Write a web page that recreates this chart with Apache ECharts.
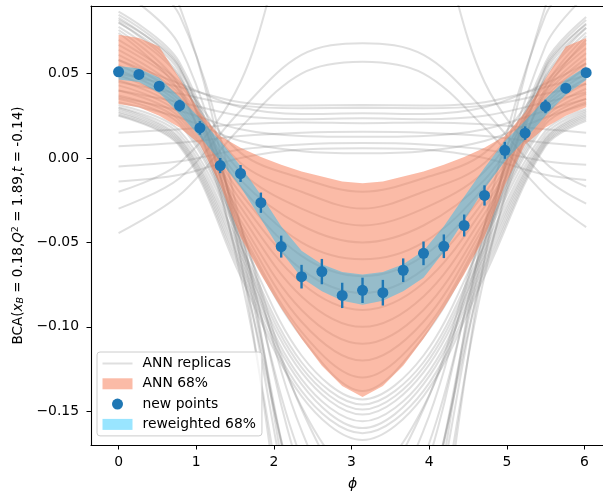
<!DOCTYPE html>
<html><head><meta charset="utf-8">
<script src="https://cdn.jsdelivr.net/npm/echarts@6/dist/echarts.min.js"></script>
<style>html,body{margin:0;padding:0;background:#fff}#c{width:603px;height:491px}</style>
</head><body><div id="c"></div>
<script>
// phi grid of the new points / bands
const phi = [0, 0.2618, 0.5236, 0.7854, 1.0472, 1.309, 1.5708, 1.8326, 2.0944, 2.3562, 2.618, 2.8798,
  3.1416, 3.4034, 3.6652, 3.927, 4.1888, 4.4506, 4.7124, 4.9742, 5.236, 5.4978, 5.7596, 6.0214];
const newPoints = [0.051, 0.0495, 0.0425, 0.031, 0.0178, -0.0045, -0.0092, -0.0265, -0.0525, -0.0703, -0.0673, -0.0814,
  -0.0784, -0.0798, -0.0665, -0.0565, -0.0523, -0.040, -0.0222, 0.0045, 0.0147, 0.0305, 0.0413, 0.0505];
const newErr = [0.0025, 0.0025, 0.003, 0.0035, 0.004, 0.0045, 0.005, 0.006, 0.0065, 0.007, 0.0075, 0.0075,
  0.0075, 0.0076, 0.007, 0.007, 0.007, 0.0065, 0.006, 0.005, 0.004, 0.004, 0.003, 0.0025];
const annLower = [0.032, 0.030, 0.025, 0.018, 0.008, -0.016, -0.047, -0.069, -0.089, -0.107, -0.123, -0.135,
  -0.1416, -0.135, -0.123, -0.107, -0.089, -0.069, -0.047, -0.016, 0.008, 0.018, 0.025, 0.030];
const annUpper = [0.073, 0.071, 0.066, 0.047, 0.027, 0.013, 0.006, 0.0005, -0.004, -0.008, -0.011, -0.014,
  -0.015, -0.014, -0.011, -0.008, -0.004, 0.0005, 0.006, 0.013, 0.027, 0.047, 0.066, 0.071];
const rwLower = [0.0465, 0.045, 0.0385, 0.026, 0.0125, -0.002, -0.0172, -0.036, -0.0555, -0.071, -0.079, -0.0845,
  -0.087, -0.0845, -0.079, -0.071, -0.0555, -0.037, -0.0182, -0.002, 0.011, 0.025, 0.0375, 0.0462];
const rwUpper = [0.0545, 0.053, 0.0475, 0.036, 0.0235, 0.010, -0.0048, -0.022, -0.0405, -0.055, -0.063, -0.0675,
  -0.069, -0.0675, -0.063, -0.055, -0.0405, -0.023, -0.0058, 0.010, 0.022, 0.035, 0.0465, 0.0542];

// phi positions at which the ANN replica curves were read
const phiSample = [0, 0.7854, 1.5708, 2.3562, 3.1416, 3.927, 4.7124, 5.4978, 6.0214];
const replicas = [
  [0.0866, 0.0566, -0.045, -0.1884, -0.26, -0.1884, -0.045, 0.0566, 0.0835],
  [0.0847, 0.0547, -0.055, -0.2173, -0.30, -0.2173, -0.055, 0.0547, 0.0817],
  [0.0829, 0.0528, -0.040, -0.1614, -0.22, -0.1614, -0.040, 0.0528, 0.0796],
  [0.0817, 0.0535, -0.060, -0.2376, -0.33, -0.2376, -0.060, 0.0535, 0.0790],
  [0.0805, 0.0484, -0.050, -0.1782, -0.24, -0.1782, -0.050, 0.0484, 0.0770],
  [0.0800, 0.0506, -0.070, -0.2606, -0.36, -0.2606, -0.070, 0.0506, 0.0772],
  [0.0776, 0.0475, -0.040, -0.1487, -0.20, -0.1487, -0.040, 0.0475, 0.0743],
  [0.0758, 0.0422, -0.065, -0.2093, -0.28, -0.2093, -0.065, 0.0422, 0.0722],
  [0.0740, 0.0393, -0.050, -0.1473, -0.19, -0.1473, -0.050, 0.0393, 0.0700],
  [0.100, 0.0664, -0.050, -0.2164, -0.30, -0.2164, -0.050, 0.0664, 0.0965],
  [0.115, 0.0846, -0.040, -0.2371, -0.34, -0.2371, -0.040, 0.0846, 0.1121],
  [0.130, 0.0899, -0.060, -0.2849, -0.40, -0.2849, -0.060, 0.0899, 0.1260],
  [0.0314, 0.016, -0.048, -0.117, -0.143, -0.117, -0.048, 0.016, 0.029],
  [0.0300, 0.014, -0.052, -0.121, -0.146, -0.121, -0.052, 0.014, 0.028],
  [0.0296, 0.012, -0.055, -0.124, -0.149, -0.124, -0.055, 0.012, 0.027],
  [0.0285, 0.011, -0.058, -0.127, -0.152, -0.127, -0.058, 0.011, 0.026],
  [0.0274, 0.010, -0.061, -0.131, -0.156, -0.131, -0.061, 0.010, 0.025],
  [0.0265, 0.009, -0.064, -0.134, -0.160, -0.134, -0.064, 0.009, 0.024],
  [0.0255, 0.008, -0.067, -0.138, -0.163, -0.138, -0.067, 0.008, 0.023],
  [0.0250, 0.007, -0.070, -0.141, -0.167, -0.141, -0.070, 0.007, 0.022],
  [0.070, 0.045, 0.003, -0.012, -0.020, -0.012, 0.003, 0.045, 0.068],
  [0.067, 0.043, -0.003, -0.020, -0.030, -0.020, -0.003, 0.043, 0.065],
  [0.064, 0.040, -0.008, -0.030, -0.040, -0.030, -0.008, 0.040, 0.062],
  [0.061, 0.038, -0.013, -0.040, -0.050, -0.040, -0.013, 0.038, 0.059],
  [0.058, 0.036, -0.017, -0.050, -0.060, -0.050, -0.017, 0.036, 0.056],
  [0.055, 0.034, -0.021, -0.058, -0.070, -0.058, -0.021, 0.034, 0.053],
  [0.052, 0.032, -0.025, -0.066, -0.080, -0.066, -0.025, 0.032, 0.050],
  [0.049, 0.030, -0.029, -0.074, -0.090, -0.074, -0.029, 0.030, 0.047],
  [0.046, 0.028, -0.033, -0.082, -0.100, -0.082, -0.033, 0.028, 0.044],
  [0.043, 0.026, -0.037, -0.090, -0.110, -0.090, -0.037, 0.026, 0.041],
  [0.040, 0.024, -0.040, -0.097, -0.120, -0.097, -0.040, 0.024, 0.038],
  [0.037, 0.022, -0.043, -0.103, -0.130, -0.103, -0.043, 0.022, 0.035],
  [0.035, 0.020, -0.045, -0.106, -0.138, -0.106, -0.045, 0.020, 0.033],
  [-0.030, -0.012, 0.028, 0.061, 0.068, 0.061, 0.028, -0.012, -0.027],
  [-0.0445, -0.022, 0.018, 0.050, 0.057, 0.050, 0.018, -0.022, -0.041],
  [-0.020, -0.003, 0.045, 0.150, 0.180, 0.150, 0.045, -0.003, -0.017],
  [0.050, 0.042, 0.033, 0.031, 0.0313, 0.031, 0.033, 0.042, 0.049],
  [0.045, 0.038, 0.031, 0.0295, 0.0297, 0.0295, 0.031, 0.038, 0.044],
  [0.058, 0.044, 0.030, 0.026, 0.0265, 0.026, 0.030, 0.044, 0.056],
  [0.040, 0.033, 0.025, 0.023, 0.0235, 0.023, 0.025, 0.033, 0.039],
  [0.015, 0.017, 0.020, 0.021, 0.0206, 0.021, 0.020, 0.017, 0.015],
  [0.007, 0.009, 0.013, 0.015, 0.0155, 0.015, 0.013, 0.009, 0.007],
  [0.036, 0.028, 0.017, 0.013, 0.0125, 0.013, 0.017, 0.028, 0.035],
  [-0.005, -0.002, 0.005, 0.008, 0.0088, 0.008, 0.005, -0.002, -0.004],
  [-0.014, -0.010, 0.000, 0.005, 0.0058, 0.005, 0.000, -0.010, -0.013],
  [0.033, 0.024, 0.010, 0.004, 0.0028, 0.004, 0.010, 0.024, 0.032]
];
const xTicks = [0, 1, 2, 3, 4, 5, 6];
const yTicks = [-0.15, -0.10, -0.05, 0.00, 0.05];

const FONT = 'DejaVu Sans';
const GRAY = 'rgba(128,128,128,0.25)';
const ORANGE = 'rgba(247,120,80,0.5)';
const BLUEBAND = 'rgba(0,191,255,0.4)';
const BLUE = '#1f77b4';

function bandSeries(name, lower, upper, color, z) {
  return {
    type: 'custom', name: name, z: z, silent: true, clip: true,
    itemStyle: { color: color },
    data: phi.map((x, i) => [x, lower[i], upper[i]]),
    encode: { x: 0, y: [1, 2] },
    renderItem: function (params, api) {
      if (params.dataIndex !== 0) return null;
      const pts = [];
      for (let i = 0; i < phi.length; i++) pts.push(api.coord([phi[i], upper[i]]));
      for (let i = phi.length - 1; i >= 0; i--) pts.push(api.coord([phi[i], lower[i]]));
      return { type: 'polygon', shape: { points: pts }, style: { fill: color } };
    }
  };
}

const series = [];
replicas.forEach(function (r) {
  series.push({
    type: 'line', name: 'ANN replicas', z: 1, silent: true,
    symbol: 'none', showSymbol: false, smooth: 0.35,
    lineStyle: { color: GRAY, width: 2 }, itemStyle: { color: GRAY },
    data: phiSample.map((x, i) => [x, r[i]])
  });
});
series.push(bandSeries('ANN 68%', annLower, annUpper, ORANGE, 2));
series.push(bandSeries('reweighted 68%', rwLower, rwUpper, BLUEBAND, 3));
series.push({
  type: 'custom', name: 'errbars', z: 4, silent: true,
  data: phi.map((x, i) => [x, newPoints[i], newErr[i]]),
  encode: { x: 0, y: 1 },
  renderItem: function (params, api) {
    const x = api.value(0), y = api.value(1), e = api.value(2);
    const p1 = api.coord([x, y - e]), p2 = api.coord([x, y + e]);
    return { type: 'line', shape: { x1: p1[0], y1: p1[1], x2: p2[0], y2: p2[1] },
      style: { stroke: BLUE, lineWidth: 2.4 } };
  }
});
series.push({
  type: 'scatter', name: 'new points', z: 5, symbol: 'circle', symbolSize: 11,
  itemStyle: { color: BLUE, opacity: 1 },
  data: phi.map((x, i) => [x, newPoints[i]])
});

const fmtY = v => (v < 0 ? '\u2212' : '') + Math.abs(v).toFixed(2);
const LINE_ICON = 'path://M0,0 L30,0 L30,0.01 Z M0,4.5 L30,4.5 L30,6.5 L0,6.5 Z M0,11 L30,11 L30,10.99 Z';

const chart = echarts.init(document.getElementById('c'), null, { renderer: 'canvas' });
chart.setOption({
  animation: false,
  textStyle: { fontFamily: FONT },
  grid: { left: 91, top: 6, width: 523, height: 439, containLabel: false, outerBoundsMode: 'none' },
  legend: {
    orient: 'vertical', left: 97, top: 352,
    itemWidth: 30, itemHeight: 11, itemGap: 6.3,
    padding: [4.5, 6, 4.5, 5.5],
    backgroundColor: 'rgba(255,255,255,0.8)', borderColor: '#cccccc', borderWidth: 1, borderRadius: 3,
    textStyle: { fontSize: 13.9, color: '#000', fontFamily: FONT, padding: [0, 0, 0, 5] },
    data: [
      { name: 'ANN replicas', icon: LINE_ICON, itemStyle: { color: GRAY, borderWidth: 0 } },
      { name: 'ANN 68%', icon: 'rect', itemStyle: { color: ORANGE, borderWidth: 0 } },
      { name: 'new points', icon: 'circle', itemStyle: { color: BLUE, borderWidth: 0 } },
      { name: 'reweighted 68%', icon: 'rect', itemStyle: { color: BLUEBAND, borderWidth: 0 } }
    ]
  },
  xAxis: [{
    type: 'value', min: -0.355, max: 6.38, z: 10,
    axisLine: { show: true, onZero: false, lineStyle: { color: '#000', width: 1.1 } },
    axisTick: { show: true, length: 4.5, lineStyle: { color: '#000', width: 1 }, customValues: xTicks },
    axisLabel: { customValues: xTicks, fontSize: 13.9, color: '#000', margin: 10, fontFamily: FONT },
    splitLine: { show: false },
    name: '\u03d5', nameLocation: 'middle', nameGap: 32,
    nameTextStyle: { fontStyle: 'italic', fontSize: 13.9, fontFamily: FONT, color: '#000' }
  }, {
    type: 'value', min: -0.355, max: 6.38, position: 'top', z: 10,
    axisLine: { show: true, onZero: false, lineStyle: { color: '#000', width: 1.1 } },
    axisTick: { show: false }, axisLabel: { show: false }, splitLine: { show: false }
  }],
  yAxis: {
    type: 'value', min: -0.17, max: 0.09, z: 10,
    axisLine: { show: true, onZero: false, lineStyle: { color: '#000', width: 1.1 } },
    axisTick: { show: true, length: 4.5, lineStyle: { color: '#000', width: 1 }, customValues: yTicks },
    axisLabel: { customValues: yTicks, formatter: fmtY, fontSize: 13.9, color: '#000', margin: 12, fontFamily: FONT },
    splitLine: { show: false },
    name: '{n|BCA(}{i|x}{sub|B}{n| = 0.18,}{i|Q}{sup|2}{n| = 1.89,}{i|t}{n| = -0.14)}',
    nameLocation: 'middle', nameRotate: 90, nameGap: 63,
    nameTextStyle: {
      color: '#000', fontFamily: FONT, fontSize: 13.5,
      rich: {
        n: { fontSize: 13.5, fontFamily: FONT, color: '#000', lineHeight: 15 },
        i: { fontSize: 13.5, fontFamily: FONT, fontStyle: 'italic', color: '#000', lineHeight: 15 },
        sub: { fontSize: 9.5, fontFamily: FONT, fontStyle: 'italic', color: '#000', lineHeight: 6, verticalAlign: 'bottom' },
        sup: { fontSize: 9.5, fontFamily: FONT, color: '#000', lineHeight: 4, verticalAlign: 'top' }
      }
    }
  },
  series: series
});
</script></body></html>
